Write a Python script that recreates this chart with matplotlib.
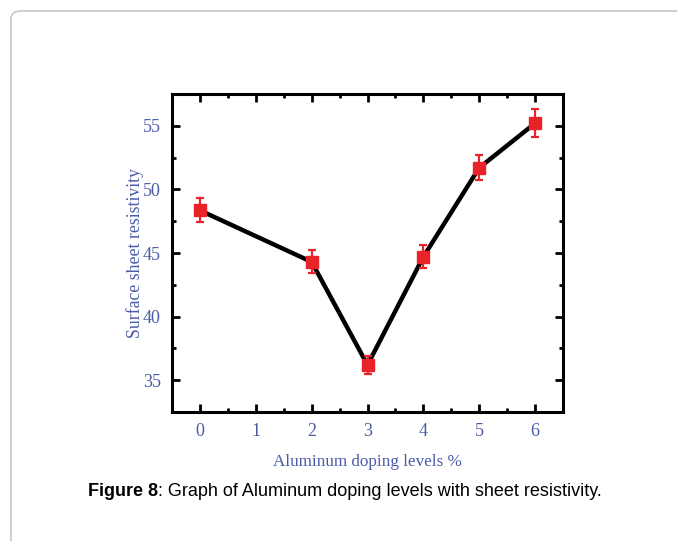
import matplotlib
matplotlib.use('Agg')
import matplotlib.pyplot as plt
from matplotlib.patches import FancyBboxPatch
from matplotlib.ticker import MultipleLocator

# dados
doping = [0, 2, 3, 4, 5, 6]
resistivity = [48.35, 44.3, 36.2, 44.7, 51.7, 55.2]
erro = [0.95, 0.9, 0.7, 0.9, 1.0, 1.1]
xticks = [0, 1, 2, 3, 4, 5, 6]
yticks = [35, 40, 45, 50, 55]

azul = '#4a5ba6'

fig = plt.figure(figsize=(6.77, 5.41), dpi=100)

# moldura cinza com canto arredondado (atrás dos eixos)
moldura = FancyBboxPatch((11/677, -0.05), 1.2, 1 - 11/541 + 0.05,
                         boxstyle='round,pad=0,rounding_size=0.015',
                         transform=fig.transFigure, facecolor='white',
                         edgecolor='#c8c8c8', linewidth=1.2, zorder=-10)
fig.patches.append(moldura)

ax = fig.add_axes([172/677, 1 - 412/541, 391/677, 318/541])
ax.set_facecolor('none')

ax.plot(doping, resistivity, color='black', linewidth=3.2, zorder=2)
ax.errorbar(doping, resistivity, yerr=erro, fmt='s', color='#e8232a',
            markersize=8, elinewidth=1.6, capsize=3, capthick=1.6, zorder=3)

ax.set_xlim(-0.5, 6.5)
ax.set_ylim(32.5, 57.5)
ax.set_xticks(xticks)
ax.set_yticks(yticks)
ax.xaxis.set_minor_locator(MultipleLocator(0.5))
ax.yaxis.set_minor_locator(MultipleLocator(2.5))

for s in ax.spines.values():
    s.set_linewidth(2.2)

ax.tick_params(which='both', direction='in', top=True, right=True,
               labelcolor=azul, labelsize=13, width=2, pad=8)
ax.tick_params(which='major', length=6)
ax.tick_params(which='minor', length=3)
for lab in ax.get_xticklabels() + ax.get_yticklabels():
    lab.set_family('Liberation Serif')

ax.set_xlabel('Aluminum doping levels %', family='Liberation Serif',
              fontsize=12.3, color=azul, labelpad=10)
ax.set_ylabel('Surface sheet resistivity', family='Liberation Serif',
              fontsize=12.8, color=azul, labelpad=-1)

# legenda da figura: parte em negrito + resto
t1 = fig.text(88/677, 1 - 491/541, 'Figure 8', family='Liberation Sans',
              fontweight='bold', fontsize=13.0, ha='left', va='center')
fig.canvas.draw()
bb = t1.get_window_extent()
fig.text(bb.x1/677, 1 - 491/541,
         ': Graph of Aluminum doping levels with sheet resistivity.',
         family='Liberation Sans', fontsize=13.0, ha='left', va='center')

fig.savefig('out.png', dpi=100)
